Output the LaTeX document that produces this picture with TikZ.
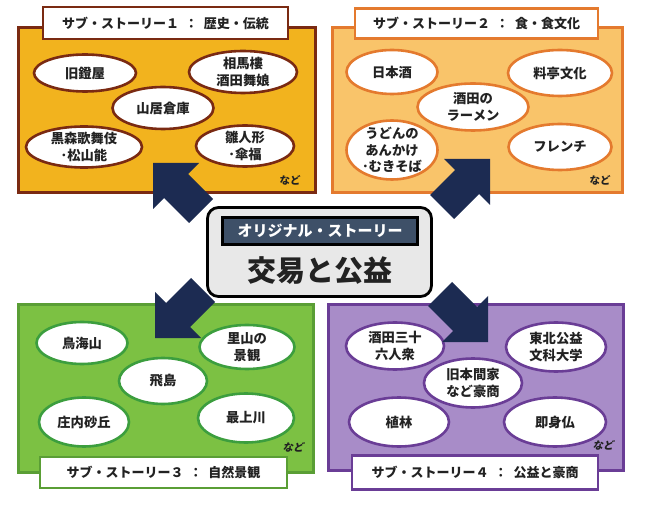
\documentclass[tikz,border=0pt]{standalone}
\usepackage{fontspec}
\setmainfont{Noto Sans CJK JP}
\usetikzlibrary{shapes.geometric}
\definecolor{goldf}{HTML}{F2B31E}
\definecolor{brownb}{HTML}{7A2A12}
\definecolor{orangef}{HTML}{F9C46A}
\definecolor{orangeb}{HTML}{E47A2E}
\definecolor{greenf}{HTML}{7CC143}
\definecolor{greenb}{HTML}{5A9E35}
\definecolor{greene}{HTML}{3C9E3E}
\definecolor{purplef}{HTML}{A88CC8}
\definecolor{purpleb}{HTML}{6A3D96}
\definecolor{navy}{HTML}{1C2B52}
\definecolor{centerf}{HTML}{E8E8E8}
\definecolor{slate}{HTML}{3E5068}
\definecolor{txt}{HTML}{222222}
\begin{document}
\begin{tikzpicture}[x=1pt,y=-1pt,
  area/.style={draw, line width=3pt},
  ell/.style={ellipse, draw, fill=white, line width=2.6pt, inner sep=0pt},
  etxt/.style={font=\fontsize{13.3}{16.5}\selectfont\bfseries, align=center, text=txt},
  ttl/.style={draw, fill=white, line width=2.6pt, font=\fontsize{13}{15}\selectfont\bfseries, text=txt, inner sep=0pt},
  nado/.style={font=\fontsize{10.5}{12}\selectfont\bfseries, text=txt},
  blockarrow/.style={fill=navy}
]
\useasboundingbox (0,0) rectangle (650,510);

% ---------- Box 1 ----------
\node[area, fill=goldf, draw=brownb, minimum width=297, minimum height=165] (b1) at (166.5,110.5) {};
\node[ell, draw=brownb, minimum width=102, minimum height=37, label={[etxt]center:旧鐙屋}] (e11) at (85,73) {};
\node[ell, draw=brownb, minimum width=108, minimum height=42, label={[etxt]center:相馬樓\\酒田舞娘}] (e12) at (243,72) {};
\node[ell, draw=brownb, minimum width=101, minimum height=42, label={[etxt]center:山居倉庫}] (e13) at (163,108) {};
\node[ell, draw=brownb, minimum width=116, minimum height=41, label={[etxt]center:黒森歌舞伎\\･松山能}] (e14) at (84,147) {};
\node[ell, draw=brownb, minimum width=98, minimum height=41, label={[etxt]center:雛人形\\･傘福}] (e15) at (245,146) {};
\node[nado] (n1) at (290,180) {など};
\node[ttl, draw=brownb, minimum width=245, minimum height=32] (t1) at (165.5,23) {サブ・ストーリー１\hspace{6pt}：\hspace{6pt}歴史・伝統};

% ---------- Box 2 ----------
\node[area, fill=orangef, draw=orangeb, minimum width=290, minimum height=165] (b2) at (477,110.5) {};
\node[ell, draw=orangeb, minimum width=91, minimum height=44, label={[etxt]center:日本酒}] (e21) at (392,72) {};
\node[ell, draw=orangeb, minimum width=104, minimum height=46, label={[etxt]center:料亭文化}] (e22) at (560,73) {};
\node[ell, draw=orangeb, minimum width=111, minimum height=47, label={[etxt]center:酒田の\\ラーメン}] (e23) at (473,107) {};
\node[ell, draw=orangeb, minimum width=91, minimum height=59, label={[etxt]center:うどんの\\あんかけ\\･むきそば}] (e24) at (392,150) {};
\node[ell, draw=orangeb, minimum width=103, minimum height=46, label={[etxt]center:フレンチ}] (e25) at (560,147) {};
\node[nado] (n2) at (600,180) {など};
\node[ttl, draw=orangeb, minimum width=243, minimum height=30] (t2) at (476.5,23.5) {サブ・ストーリー２\hspace{6pt}：\hspace{6pt}食・食文化};

% ---------- Box 3 ----------
\node[area, fill=greenf, draw=greenb, minimum width=295, minimum height=167] (b3) at (165.5,388.5) {};
\node[ell, draw=greene, minimum width=91, minimum height=42, label={[etxt]center:鳥海山}] (e31) at (82,343) {};
\node[ell, draw=greene, minimum width=95, minimum height=44, label={[etxt]center:里山の\\景観}] (e32) at (247,347) {};
\node[ell, draw=greene, minimum width=88, minimum height=46, label={[etxt]center:飛島}] (e33) at (163,381) {};
\node[ell, draw=greene, minimum width=90, minimum height=49, label={[etxt]center:庄内砂丘}] (e34) at (84,422) {};
\node[ell, draw=greene, minimum width=96, minimum height=49, label={[etxt]center:最上川}] (e35) at (246,418) {};
\node[nado] (n3) at (293,447) {\addfontfeature{FakeSlant=0.2}など};
\node[ttl, draw=greenb, minimum width=247, minimum height=31] (t3) at (163.5,472.5) {サブ・ストーリー３\hspace{6pt}：\hspace{6pt}自然景観};

% ---------- Box 4 ----------
\node[area, fill=purplef, draw=purpleb, minimum width=295, minimum height=165] (b4) at (475.5,387.5) {};
\node[ell, draw=purpleb, minimum width=98, minimum height=47, label={[etxt]center:酒田三十\\六人衆}] (e41) at (395,346) {};
\node[ell, draw=purpleb, minimum width=100, minimum height=49, label={[etxt]center:東北公益\\文科大学}] (e42) at (556,347) {};
\node[ell, draw=purpleb, minimum width=98, minimum height=49, label={[etxt]center:旧本間家\\など豪商}] (e43) at (473,383) {};
\node[ell, draw=purpleb, minimum width=100, minimum height=49, label={[etxt]center:植林}] (e44) at (399,422) {};
\node[ell, draw=purpleb, minimum width=102, minimum height=49, label={[etxt]center:即身仏}] (e45) at (555,422) {};
\node[nado] (n4) at (603,445) {\addfontfeature{FakeSlant=0.2}など};
\node[ttl, draw=purpleb, minimum width=246, minimum height=34] (t4) at (475,472.5) {サブ・ストーリー４\hspace{6pt}：\hspace{6pt}公益と豪商};

% ---------- Block arrows ----------
\fill[blockarrow] (153,163) -- (199,163) -- (188,174) -- (213,199) -- (189,223) -- (164,198) -- (153,209) -- cycle;
\fill[blockarrow] (490,159) -- (490,205) -- (479,194) -- (454,219) -- (430,195) -- (455,170) -- (444,159) -- cycle;
\fill[blockarrow] (155,338) -- (155,292) -- (166,303) -- (191,278) -- (215,302) -- (190,327) -- (201,338) -- cycle;
\fill[blockarrow] (488,342) -- (442,342) -- (453,331) -- (428,306) -- (452,282) -- (477,307) -- (488,296) -- cycle;

% ---------- Centre ----------
\node[draw=black, line width=2.8pt, fill=centerf, rounded corners=11pt, minimum width=224, minimum height=89] (c) at (319.5,252) {};
\node[draw=black, line width=2.2pt, fill=slate, minimum width=195, minimum height=27, inner sep=0pt, text=white, font=\fontsize{15}{17}\selectfont\bfseries] (ct) at (320,231) {オリジナル・ストーリー};
\node[font=\fontsize{29}{31}\selectfont\bfseries, text=txt] (cm) at (320,271) {交易と公益};
\end{tikzpicture}
\end{document}
